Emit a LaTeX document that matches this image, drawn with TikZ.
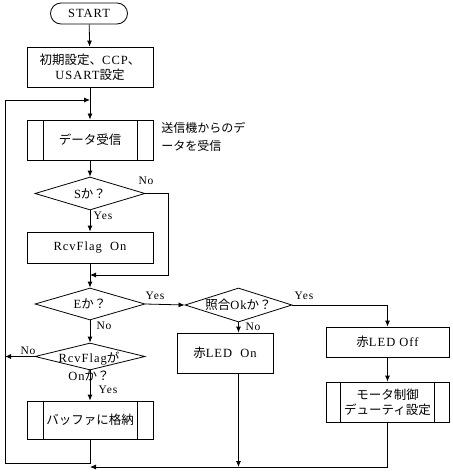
\documentclass[tikz,border=0pt]{standalone}
\usepackage{fontspec}
\setmainfont{Liberation Serif}[LetterSpace=8]
\newfontfamily\jpf{Noto Sans CJK JP}
\newcommand{\jp}[1]{{\jpf #1}}
\usetikzlibrary{arrows.meta,shapes.geometric}
\begin{document}
\begin{tikzpicture}[x=1pt,y=-1pt,line width=0.8pt,
  >={Latex[length=6pt,width=5pt]},
  font=\fontsize{12.5}{15}\selectfont,
  box/.style={draw,rectangle,minimum width=126pt,inner sep=0pt,align=center},
  term/.style={draw,rectangle,rounded corners=10.5pt,minimum width=77pt,minimum height=21pt,inner sep=0pt},
  dia/.style={draw,diamond,inner sep=0pt},
  dtext/.style={inner sep=0pt,align=center},
  lbl/.style={inner sep=0pt,font=\fontsize{11.5}{13}\selectfont}]
\path[use as bounding box] (0,0) rectangle (452,476);

\node[term] (start) at (89,13.5) {START};
\node[box,minimum height=40pt] (init) at (90,67) {\jp{初期設定、}CCP\jp{、}\\USART\jp{設定}};
\node[box,minimum height=40pt] (recv) at (90,140) {\jp{データ受信}};
\draw ([xshift=17pt]recv.north west) -- ([xshift=17pt]recv.south west)
      ([xshift=-16pt]recv.north east) -- ([xshift=-16pt]recv.south east);
\node[anchor=west,align=left,inner sep=0pt,font=\fontsize{12}{18}\selectfont] (note) at (161,137) {\jp{送信機からのデ}\\\jp{ータを受信}};

\node[dia,minimum width=110pt,minimum height=33pt] (s) at (90,193.5) {};
\node[dtext] (st) at (s) {S\jp{か？}};
\node[box,minimum height=31pt] (on) at (90,247.5) {RcvFlag\ \ On};
\node[dia,minimum width=110pt,minimum height=32pt] (e) at (90,304) {};
\node[dtext] (et) at (e) {E\jp{か？}};
\node[dia,minimum width=110pt,minimum height=27pt] (f) at (90,356.5) {};
\node[dtext,font=\fontsize{12.5}{18}\selectfont] (ft) at (89,366) {RcvFlag\jp{が}\\On\jp{か？}};
\node[box,minimum height=38pt] (buf) at (90,420) {\jp{バッファに格納}};
\draw ([xshift=17pt]buf.north west) -- ([xshift=17pt]buf.south west)
      ([xshift=-16pt]buf.north east) -- ([xshift=-16pt]buf.south east);

\node[dia,minimum width=107pt,minimum height=34pt] (k) at (238.5,305) {};
\node[dtext] (kt) at (k) {\jp{照合}Ok\jp{か？}};
\node[box,minimum width=96pt,minimum height=40pt] (ledon) at (225,353) {\jp{赤}LED\ \ On};
\node[box,minimum width=123pt,minimum height=30pt] (ledoff) at (387.5,342) {\jp{赤}LED Off};
\node[box,minimum width=123pt,minimum height=40pt] (motor) at (387.5,402) {\jp{モータ制御}\\\jp{デューティ設定}};
\draw ([xshift=15pt]motor.north west) -- ([xshift=15pt]motor.south west)
      ([xshift=-15pt]motor.north east) -- ([xshift=-15pt]motor.south east);

\coordinate (sr) at (168,275);
\coordinate (fl) at (5,356.5);
\coordinate (lb) at (5,463);
\coordinate (lt) at (5,100);
\coordinate (rb) at (387.5,467);

\draw[->] (start) -- (init);
\draw[->] (init) -- (recv);
\draw[->] (recv) -- (s);
\draw[->] (s) -- (on);
\draw[->] (on) -- (e);
\draw[->] (e) -- (f);
\draw[->] (f) -- (buf);
\draw[->] (e.east) -- (k.west);
\draw[->] (k.south) -- (k.south |- ledon.north);
\draw[->] (k.east) -| (ledoff.north);
\draw[->] (ledoff) -- (motor);
\draw[->] (s.east) -| (sr) -- (sr -| on.south);
\draw[->] (f.west) -- (fl);
\draw[->] (buf.south) -- (buf.south |- lb) -- (lb) -- (lt) -- (lt -| init.south);
\draw[->] (motor.south) -- (rb) -- (rb -| buf.south);
\draw[->] (k.south |- ledon.south) -- (k.south |- rb);

\node[lbl] (sno) at (146,181) {No};
\node[lbl] (syes) at (103,216) {Yes};
\node[lbl] (eyes) at (155,296) {Yes};
\node[lbl] (eno) at (104,326) {No};
\node[lbl] (fno) at (28,351) {No};
\node[lbl] (fyes) at (108,390) {Yes};
\node[lbl] (kyes) at (304,296) {Yes};
\node[lbl] (kno) at (253,327) {No};
\end{tikzpicture}
\end{document}
